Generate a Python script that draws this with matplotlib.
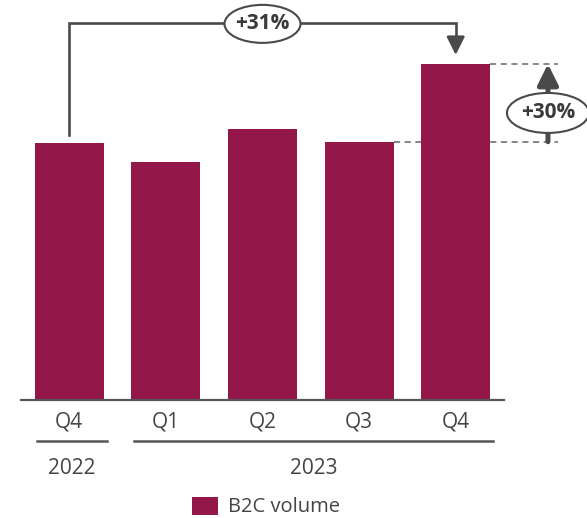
import matplotlib

matplotlib.use("Agg")
import matplotlib.pyplot as plt
from matplotlib.patches import Ellipse, Patch

# B2C volume, index Q4 2022 = 100
quarters = ["Q4", "Q1", "Q2", "Q3", "Q4"]
volume = [100.0, 92.7, 105.5, 100.6, 130.9]
years = ["2022", "2023"]
year_spans = [(0, 0), (1, 4)]  # first/last bar index of each year

BAR = "#94174a"
INK = "#444444"
LINE = "#4a4a4a"

plt.rcParams["font.family"] = ["Open Sans", "DejaVu Sans"]

fig = plt.figure(figsize=(5.87, 5.18), dpi=100)
ax = fig.add_axes([21 / 587, 118 / 518, 483 / 587, 400 / 518])

x = list(range(len(quarters)))
ax.bar(x, volume, width=0.715, color=BAR, zorder=2)
ax.set_xlim(-0.5, len(quarters) - 0.5)
ax.set_ylim(0, 155.8)

ax.set_yticks([])
ax.set_xticks(x, quarters)
ax.tick_params(axis="x", length=0, pad=8.5, labelsize=15, labelcolor=INK)
for side in ("left", "right", "top"):
    ax.spines[side].set_visible(False)
ax.spines["bottom"].set_color("#555555")
ax.spines["bottom"].set_linewidth(1.6)


def pill(ax, cx, cy, text, w_px, h_px):
    """White ellipse with a bold label, sized in pixels."""
    px_x = ax.bbox.width / (ax.get_xlim()[1] - ax.get_xlim()[0])
    px_y = ax.bbox.height / (ax.get_ylim()[1] - ax.get_ylim()[0])
    ax.add_patch(Ellipse((cx, cy), w_px / px_x, h_px / px_y, facecolor="white",
                         edgecolor=LINE, linewidth=1.5, clip_on=False, zorder=5))
    ax.text(cx, cy, text, ha="center", va="center", fontsize=15,
            fontweight="bold", color="#3a3a3a", zorder=6, clip_on=False)


# year-over-year bracket: Q4 2022 -> Q4 2023
first, last = volume[0], volume[-1]
top = 146.7
ax.plot([0, 0, 4, 4], [first + 3.2, top, top, last + 8], color=LINE,
        linewidth=1.9, solid_joinstyle="miter", clip_on=False, zorder=3)
ax.annotate("", xy=(4, last + 3.5), xytext=(4, last + 9),
            arrowprops=dict(arrowstyle="-|>,head_length=1.1,head_width=0.55",
                            color=LINE, linewidth=1.9, shrinkA=0, shrinkB=0),
            annotation_clip=False, zorder=3)
pill(ax, 2.0, 146.5, f"+{(last / first - 1) * 100:.0f}%", 76, 38)

# quarter-over-quarter: Q3 -> Q4 2023
q3 = volume[3]
xr = 4.955
ax.plot([3 + 0.3575, 5.06], [q3, q3], color="#666666", linewidth=1.1,
        linestyle=(0, (4, 3)), clip_on=False, zorder=1)
ax.plot([4 + 0.3575, 5.06], [last, last], color="#666666", linewidth=1.1,
        linestyle=(0, (4, 3)), clip_on=False, zorder=1)
ax.annotate("", xy=(xr, last), xytext=(xr, q3),
            arrowprops=dict(arrowstyle="-|>,head_length=1.25,head_width=0.62",
                            color=LINE, linewidth=3.6, shrinkA=0, shrinkB=0),
            annotation_clip=False, zorder=3)
pill(ax, xr, (400 - 113) / 2.567, f"+{(last / q3 - 1) * 100:.0f}%", 82, 40)

# year grouping under the quarter labels
yr_line = -0.1025
yr_text = -0.17
trans = ax.get_xaxis_transform()
for label, (a, b) in zip(years, year_spans):
    x0, x1 = a - 0.33, b + 0.39
    ax.plot([x0, x1], [yr_line, yr_line], color="#555555", linewidth=1.8,
            transform=trans, clip_on=False)
    ax.text((x0 + x1) / 2, yr_text, label, transform=trans, ha="center",
            va="center", fontsize=15, color=INK)

fig.legend(handles=[Patch(facecolor=BAR, label="B2C volume")], loc="center",
           bbox_to_anchor=(266 / 587, 11 / 518), frameon=False, fontsize=14.5,
           labelcolor=INK, handlelength=1.32, handleheight=1.0,
           handletextpad=0.5, borderpad=0, borderaxespad=0)

fig.savefig("out.png", dpi=100, facecolor="white")
